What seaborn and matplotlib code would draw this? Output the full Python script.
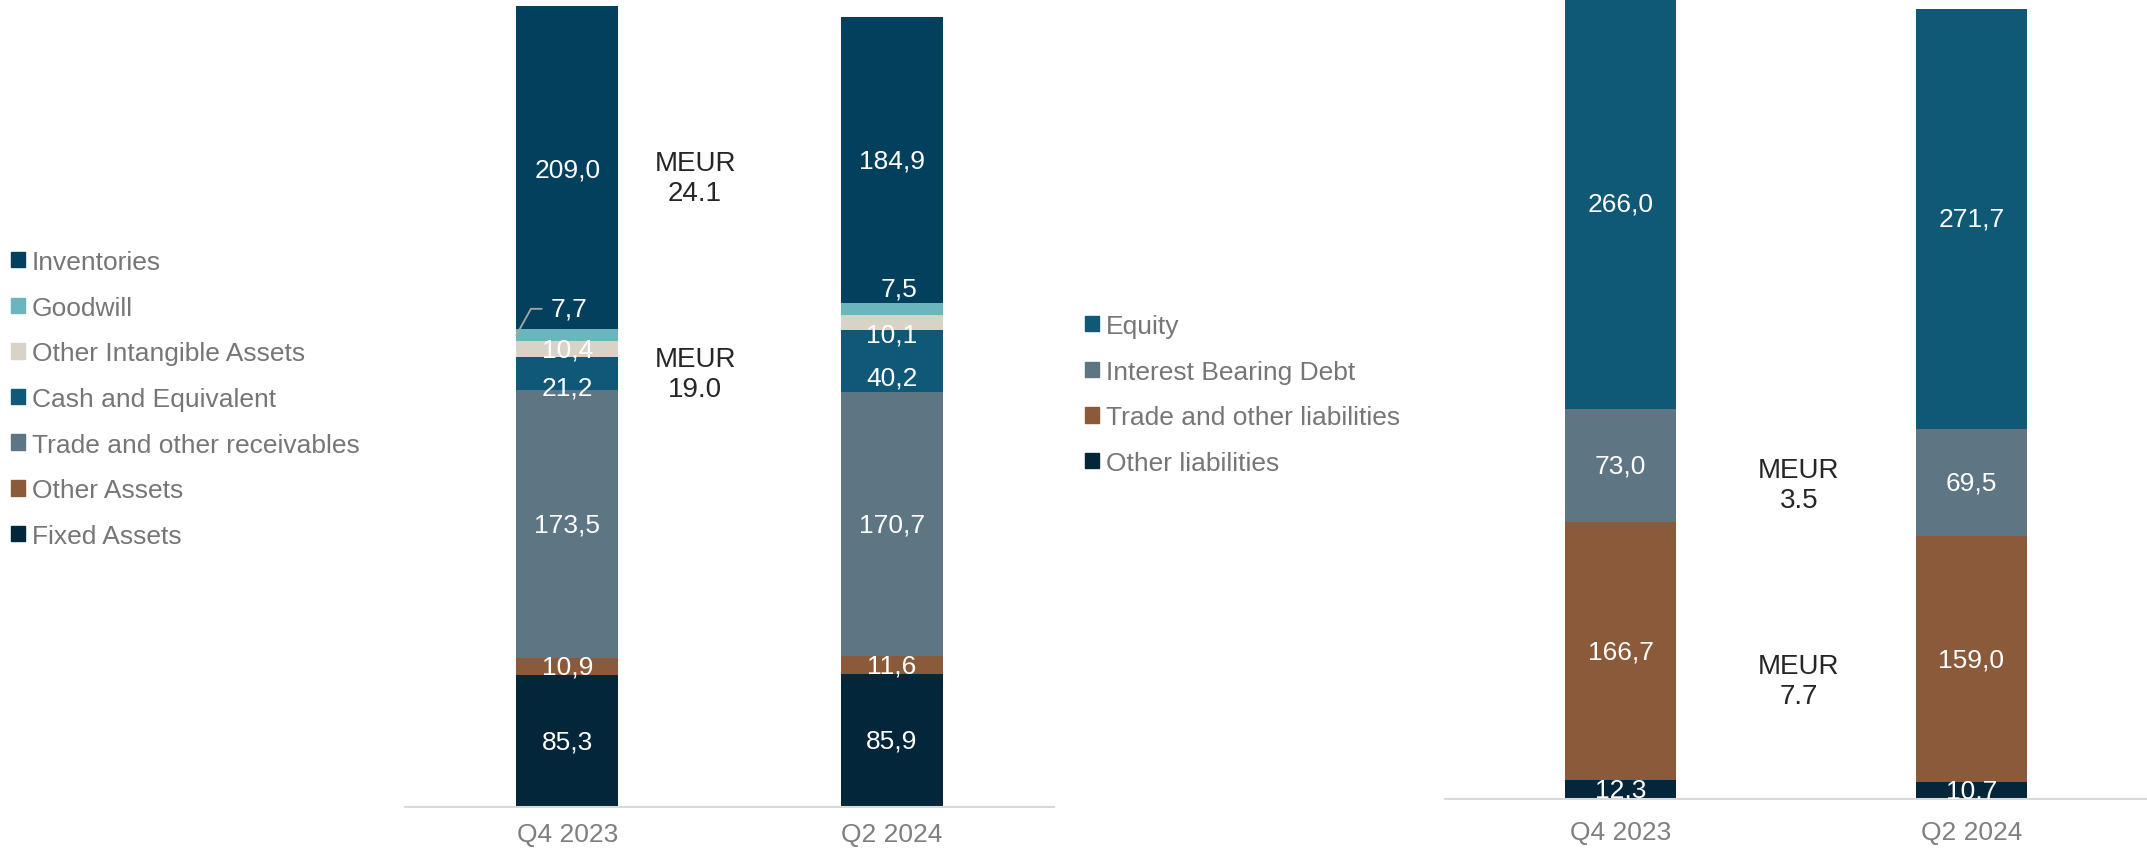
import numpy as np
import matplotlib
matplotlib.use("Agg")
import matplotlib.pyplot as plt
import seaborn as sns
from matplotlib.patches import Patch

quarters = ["Q4 2023", "Q2 2024"]

# Assets, stacked bottom -> top
asset_names = ["Fixed Assets", "Other Assets", "Trade and other receivables",
               "Cash and Equivalent", "Other Intangible Assets", "Goodwill", "Inventories"]
fixed_assets = [85.3, 85.9]
other_assets = [10.9, 11.6]
receivables = [173.5, 170.7]
cash = [21.2, 40.2]
other_intangibles = [10.4, 10.1]
goodwill = [7.7, 7.5]
inventories = [209.0, 184.9]

# Equity and liabilities, stacked bottom -> top
liab_names = ["Other liabilities", "Trade and other liabilities",
              "Interest Bearing Debt", "Equity"]
other_liabilities = [12.3, 10.7]
trade_liabilities = [166.7, 159.0]
interest_debt = [73.0, 69.5]
equity = [266.0, 271.7]

# change notes between the bars
asset_notes = ["MEUR\n24.1", "MEUR\n19.0"]
asset_note_y = [407, 280]
liab_notes = ["MEUR\n3.5", "MEUR\n7.7"]
liab_note_y = [203, 76]

asset_colors = ["#03263A", "#8B5A3A", "#5E7584", "#0F5877", "#D9D3C7", "#6BB5BD", "#03405E"]
liab_colors = ["#03263A", "#8B5A3A", "#5E7584", "#0F5876"]

# label nudges in points (dx, dy) per segment / quarter
asset_offsets = [[(0, 0), (0, 0)], [(0, 0), (0, 0)], [(0, 0), (0, 0)],
                 [(0, -10), (0, -12)], [(0, 0), (0, -8.5)], [None, (5, 14.5)],
                 [(0, -1.5), (0, 0)]]
liab_offsets = [[(0, 0), (0, 0)]] * 4

sns.set_style("white")
plt.rcParams["font.family"] = ["Liberation Sans", "DejaVu Sans"]

W, H = 2147, 854
fig = plt.figure(figsize=(W / 100, H / 100), dpi=100)
ax1 = fig.add_axes([405 / W, 46 / H, 649 / W, 808 / H])
ax2 = fig.add_axes([1445 / W, 54 / H, 702 / W, 800 / H])


def stacked(ax, series, colors, offsets):
    bottom = np.zeros(len(quarters))
    for vals, col, offs in zip(series, colors, offsets):
        sns.barplot(x=quarters, y=vals, bottom=bottom, color=col, width=0.314,
                    saturation=1, linewidth=0, ax=ax)
        for i, v in enumerate(vals):
            txt = f"{v:.1f}".replace(".", ",")
            mid = bottom[i] + v / 2
            if offs[i] is None:
                # small segment: label above with a leader line from the bar edge
                ax.annotate(txt, (i - 0.157, mid), xytext=(38, 19),
                            textcoords="offset points", ha="center", va="center",
                            color="white", fontsize=19,
                            arrowprops=dict(arrowstyle="-", color="#A6A6A6", lw=1.3,
                                            relpos=(0, 0.5), shrinkA=4, shrinkB=0,
                                            connectionstyle="angle,angleA=0,angleB=61,rad=0"))
            else:
                ax.annotate(txt, (i, mid), xytext=offs[i], textcoords="offset points",
                            ha="center", va="center", color="white", fontsize=19,
                            clip_on=True)
        bottom = bottom + np.array(vals)


stacked(ax1, [fixed_assets, other_assets, receivables, cash, other_intangibles,
              goodwill, inventories], asset_colors, asset_offsets)
stacked(ax2, [other_liabilities, trade_liabilities, interest_debt, equity],
        liab_colors, liab_offsets)

for note, y in zip(asset_notes, asset_note_y):
    ax1.text(0.394, y, note, ha="center", va="center", fontsize=20, color="#262626")
for note, y in zip(liab_notes, liab_note_y):
    ax2.text(0.508, y, note, ha="center", va="center", fontsize=20, color="#262626")

ax1.set_ylim(0, 522.6)
ax2.set_ylim(0, 517.1)
for ax, pad in ((ax1, 11), (ax2, 15)):
    ax.set_xlim(-0.5, 1.5)
    ax.set_yticks([])
    ax.set_xlabel("")
    ax.set_ylabel("")
    for s in ("left", "top", "right"):
        ax.spines[s].set_visible(False)
    ax.spines["bottom"].set_color("#D9D9D9")
    ax.spines["bottom"].set_linewidth(1.5)
    ax.tick_params(axis="x", length=0, pad=pad, labelsize=19, labelcolor="#7F7F7F")
    ax.patch.set_alpha(0)

leg_kw = dict(loc="upper left", bbox_transform=fig.transFigure, frameon=False,
              fontsize=19, labelcolor="#767676", handlelength=0.53, handleheight=0.53,
              handletextpad=0.25, labelspacing=0.82, borderpad=0, borderaxespad=0)
h1 = [Patch(color=c) for c in asset_colors][::-1]
fig.legend(h1, asset_names[::-1], bbox_to_anchor=(11 / W, 1 - 251 / H), **leg_kw)
h2 = [Patch(color=c) for c in liab_colors][::-1]
fig.legend(h2, liab_names[::-1], bbox_to_anchor=(1085 / W, 1 - 315 / H), **leg_kw)

fig.savefig("out.png", dpi=100)
